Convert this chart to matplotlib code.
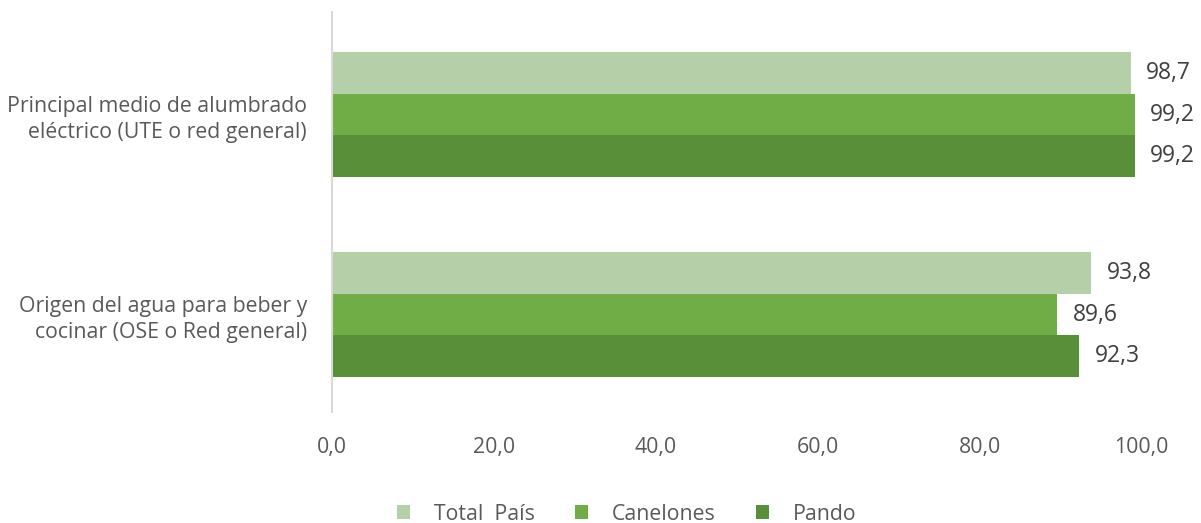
import matplotlib.pyplot as plt
import numpy as np

plt.rcParams['font.family'] = ['Open Sans', 'DejaVu Sans']

categories = ['Principal medio de alumbrado\neléctrico (UTE o red general)',
              'Origen del agua para beber y\ncocinar (OSE o Red general)']
series = ['Total  País', 'Canelones', 'Pando']
total_pais = [98.7, 93.8]
canelones = [99.2, 89.6]
pando = [99.2, 92.3]
colors = ['#B5CFA8', '#70AD47', '#5A8F3A']

fig = plt.figure(figsize=(12.01, 5.23), dpi=100)
ax = fig.add_axes([0.2764, 0.2122, 0.674, 0.7648])

y = np.arange(len(categories))
h = 0.208
values = [total_pais, canelones, pando]
for i, (name, vals, c) in enumerate(zip(series, values, colors)):
    pos = y + (i - 1) * h
    ax.barh(pos, vals, height=h, color=c, label=name, linewidth=0)
    for p, v in zip(pos, vals):
        ax.text(v + 1.9, p, f'{v:.1f}'.replace('.', ','), va='center', ha='left',
                fontsize=16.5, color='#404040')

ax.set_ylim(1.4875, -0.5125)
ax.set_xlim(0, 100)
ax.set_xticks(np.arange(0, 101, 20))
ax.set_xticklabels([f'{t:.1f}'.replace('.', ',') for t in np.arange(0, 101, 20)])
ax.set_yticks(y)
ax.set_yticklabels(categories, fontsize=15.3, color='#595959', ha='right',
                   multialignment='right', linespacing=1.3)
ax.tick_params(axis='y', length=0, pad=18)
ax.tick_params(axis='x', length=0, pad=18, labelsize=15.3, labelcolor='#595959')
for s in ['top', 'right', 'bottom']:
    ax.spines[s].set_visible(False)
ax.spines['left'].set_color('#D9D9D9')
ax.spines['left'].set_linewidth(1.5)

handles, labels = ax.get_legend_handles_labels()
fig.legend(handles, labels, loc='center', bbox_to_anchor=(0.5216, 0.017), ncol=3,
           frameon=False, fontsize=15.3, labelcolor='#595959', handlelength=0.63,
           handleheight=0.63, columnspacing=1.9, handletextpad=1.1)

fig.savefig('out.png', dpi=100)
